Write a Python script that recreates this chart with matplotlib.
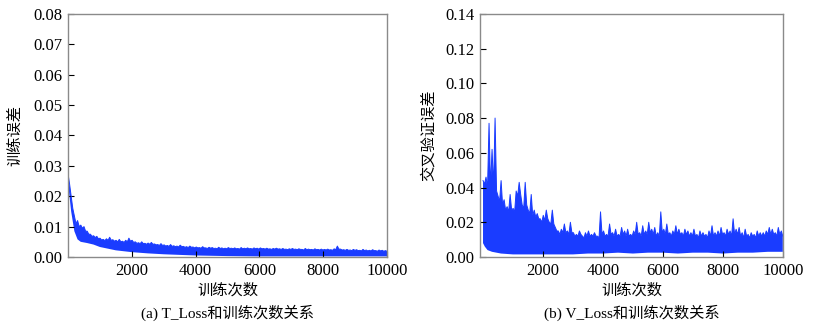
import matplotlib
matplotlib.use("Agg")
import matplotlib.pyplot as plt
import numpy as np

plt.rcParams["font.family"] = ["Liberation Serif", "Noto Sans CJK SC"]
plt.rcParams["axes.unicode_minus"] = False

BLUE = "#1a3cff"

# training loss band: top edge = local peaks (every 100 it.) and the ridge
# level between them (offset by 50 it.); bottom edge = floor values
t_peak = [
    0.0275, 0.0200, 0.0135, 0.0120, 0.0105, 0.0100, 0.0085, 0.0075, 0.0070, 0.0068,
    0.0062, 0.0058, 0.0060, 0.0065, 0.0057, 0.0055, 0.0058, 0.0052, 0.0055, 0.0062,
    0.0055, 0.0050, 0.0047, 0.0050, 0.0045, 0.0046, 0.0048, 0.0043, 0.0041, 0.0044,
    0.0040, 0.0038, 0.0041, 0.0037, 0.0036, 0.0039, 0.0035, 0.0034, 0.0036, 0.0033,
    0.0033, 0.0031, 0.0034, 0.0030, 0.0032, 0.0031, 0.0029, 0.0032, 0.0030, 0.0029,
    0.0031, 0.0029, 0.0030, 0.0028, 0.0031, 0.0029, 0.0030, 0.0028, 0.0030, 0.0029,
    0.0030, 0.0028, 0.0029, 0.0027, 0.0028, 0.0029, 0.0027, 0.0028, 0.0026, 0.0027,
    0.0028, 0.0026, 0.0027, 0.0025, 0.0028, 0.0026, 0.0025, 0.0027, 0.0025, 0.0026,
    0.0025, 0.0026, 0.0024, 0.0027, 0.0036, 0.0026, 0.0024, 0.0025, 0.0023, 0.0025,
    0.0024, 0.0022, 0.0025, 0.0023, 0.0022, 0.0024, 0.0021, 0.0023, 0.0022, 0.0021,
]
t_ridge = [
    0.0240, 0.0160, 0.0110, 0.0100, 0.0095, 0.0085, 0.0075, 0.0068, 0.0064, 0.0060,
    0.0056, 0.0054, 0.0055, 0.0055, 0.0052, 0.0050, 0.0050, 0.0048, 0.0050, 0.0052,
    0.0048, 0.0045, 0.0044, 0.0044, 0.0042, 0.0042, 0.0042, 0.0040, 0.0038, 0.0038,
    0.0036, 0.0035, 0.0035, 0.0034, 0.0033, 0.0034, 0.0032, 0.0031, 0.0032, 0.0030,
    0.0030, 0.0029, 0.0030, 0.0028, 0.0029, 0.0028, 0.0027, 0.0028, 0.0027, 0.0027,
    0.0028, 0.0027, 0.0027, 0.0026, 0.0027, 0.0027, 0.0027, 0.0026, 0.0027, 0.0026,
    0.0027, 0.0026, 0.0026, 0.0025, 0.0026, 0.0026, 0.0025, 0.0025, 0.0024, 0.0025,
    0.0025, 0.0024, 0.0025, 0.0023, 0.0024, 0.0024, 0.0023, 0.0024, 0.0023, 0.0023,
    0.0023, 0.0023, 0.0022, 0.0024, 0.0026, 0.0023, 0.0022, 0.0022, 0.0021, 0.0022,
    0.0021, 0.0020, 0.0021, 0.0020, 0.0020, 0.0021, 0.0019, 0.0020, 0.0019, 0.0019,
]
t_floor_it = [0, 100, 200, 300, 400, 600, 800, 1000, 1500, 2000,
              2500, 3000, 3500, 4000, 5000, 6000, 7000, 8000, 9000, 10000]
t_floor = [0.0245, 0.0150, 0.0085, 0.0058, 0.0050, 0.0046, 0.0041, 0.0033, 0.0022, 0.0016,
           0.0012, 0.0009, 0.0007, 0.0005, 0.0003, 0.0002, 0.0002, 0.0002, 0.0002, 0.0002]

# cross-validation loss band, same layout
v_peak = [
    0.044, 0.046, 0.077, 0.062, 0.080, 0.035, 0.044, 0.033, 0.029, 0.036,
    0.028, 0.038, 0.043, 0.030, 0.043, 0.027, 0.036, 0.027, 0.025, 0.022,
    0.024, 0.027, 0.020, 0.027, 0.017, 0.015, 0.016, 0.019, 0.015, 0.020,
    0.014, 0.013, 0.015, 0.012, 0.014, 0.015, 0.013, 0.014, 0.012, 0.026,
    0.015, 0.013, 0.019, 0.014, 0.016, 0.013, 0.017, 0.015, 0.016, 0.013,
    0.015, 0.020, 0.014, 0.018, 0.015, 0.020, 0.016, 0.017, 0.014, 0.026,
    0.016, 0.019, 0.014, 0.015, 0.018, 0.016, 0.014, 0.016, 0.015, 0.014,
    0.016, 0.013, 0.015, 0.014, 0.013, 0.015, 0.018, 0.014, 0.015, 0.017,
    0.014, 0.016, 0.015, 0.022, 0.016, 0.017, 0.014, 0.016, 0.013, 0.014,
    0.013, 0.015, 0.014, 0.014, 0.015, 0.017, 0.016, 0.014, 0.017, 0.015,
]
v_ridge = [
    0.042, 0.040, 0.040, 0.040, 0.038, 0.032, 0.030, 0.027, 0.026, 0.027,
    0.026, 0.035, 0.036, 0.028, 0.030, 0.025, 0.024, 0.023, 0.022, 0.020,
    0.021, 0.022, 0.019, 0.019, 0.015, 0.013, 0.014, 0.014, 0.013, 0.014,
    0.012, 0.012, 0.013, 0.011, 0.012, 0.012, 0.012, 0.012, 0.011, 0.013,
    0.012, 0.012, 0.013, 0.012, 0.012, 0.012, 0.013, 0.012, 0.012, 0.012,
    0.013, 0.013, 0.012, 0.013, 0.013, 0.014, 0.013, 0.012, 0.012, 0.014,
    0.013, 0.013, 0.012, 0.013, 0.013, 0.013, 0.012, 0.013, 0.012, 0.012,
    0.012, 0.011, 0.012, 0.012, 0.011, 0.012, 0.012, 0.012, 0.012, 0.013,
    0.012, 0.013, 0.012, 0.013, 0.013, 0.012, 0.011, 0.012, 0.011, 0.012,
    0.011, 0.012, 0.012, 0.012, 0.013, 0.013, 0.013, 0.012, 0.013, 0.012,
]
v_floor_it = [0, 60, 150, 300, 600, 1000, 1500, 2000, 2500, 3000, 3500, 4000,
              4500, 5000, 5500, 6000, 6500, 7000, 7500, 8000, 8500, 9000, 9500, 10000]
v_floor = [0.0080, 0.0060, 0.0040, 0.0030, 0.0020, 0.0015, 0.0015, 0.0015, 0.0015, 0.0015,
           0.0020, 0.0020, 0.0025, 0.0020, 0.0025, 0.0025, 0.0020, 0.0025, 0.0025, 0.0020,
           0.0025, 0.0025, 0.0030, 0.0030]

panels = [
    dict(peak=t_peak, ridge=t_ridge, floor_it=t_floor_it, floor=t_floor,
         x0=0, ymax=0.08, ystep=0.01,
         ylabel="训练误差", caption="(a) T_Loss和训练次数关系"),
    dict(peak=v_peak, ridge=v_ridge, floor_it=v_floor_it, floor=v_floor,
         x0=-100, ymax=0.14, ystep=0.02,
         ylabel="交叉验证误差", caption="(b) V_Loss和训练次数关系"),
]
xticks = [2000, 4000, 6000, 8000, 10000]

fig = plt.figure(figsize=(8.14, 3.34), dpi=100)
boxes = [[0.0835, 0.2305, 0.392, 0.728], [0.5897, 0.2305, 0.372, 0.728]]
ylab_x = [15 / 814, 428 / 814]

for box, p, lx in zip(boxes, panels, ylab_x):
    ax = fig.add_axes(box)
    top = np.column_stack([p["peak"], p["ridge"]]).ravel()
    top_it = np.linspace(0, 10000, len(top))
    poly_x = np.r_[top_it, np.asarray(p["floor_it"])[::-1]]
    poly_y = np.r_[top, np.asarray(p["floor"])[::-1]]
    ax.fill(poly_x, poly_y, color=BLUE, lw=0)
    ax.plot(top_it, top, color=BLUE, lw=0.7)
    ax.set_xlim(p["x0"], 10000)
    ax.set_ylim(0, p["ymax"])
    ax.set_xticks(xticks)
    ax.set_yticks(np.arange(0, p["ymax"] + 1e-9, p["ystep"]))
    ax.yaxis.set_major_formatter(plt.FormatStrFormatter("%.2f"))
    ax.tick_params(direction="in", length=4, width=0.8, labelsize=12,
                   color="black", pad=4)
    for s in ax.spines.values():
        s.set_color("#8a8a8a")
        s.set_linewidth(1.0)
    cx = box[0] + box[2] / 2
    fig.text(cx, 1 - 290 / 334, "训练次数", ha="center", va="center", fontsize=11)
    fig.text(cx, 1 - 313 / 334, p["caption"], ha="center", va="center", fontsize=11)
    fig.text(lx, 1 - 135 / 334, p["ylabel"], ha="center", va="center",
             rotation=90, fontsize=11)

fig.savefig("out.png", dpi=100)
